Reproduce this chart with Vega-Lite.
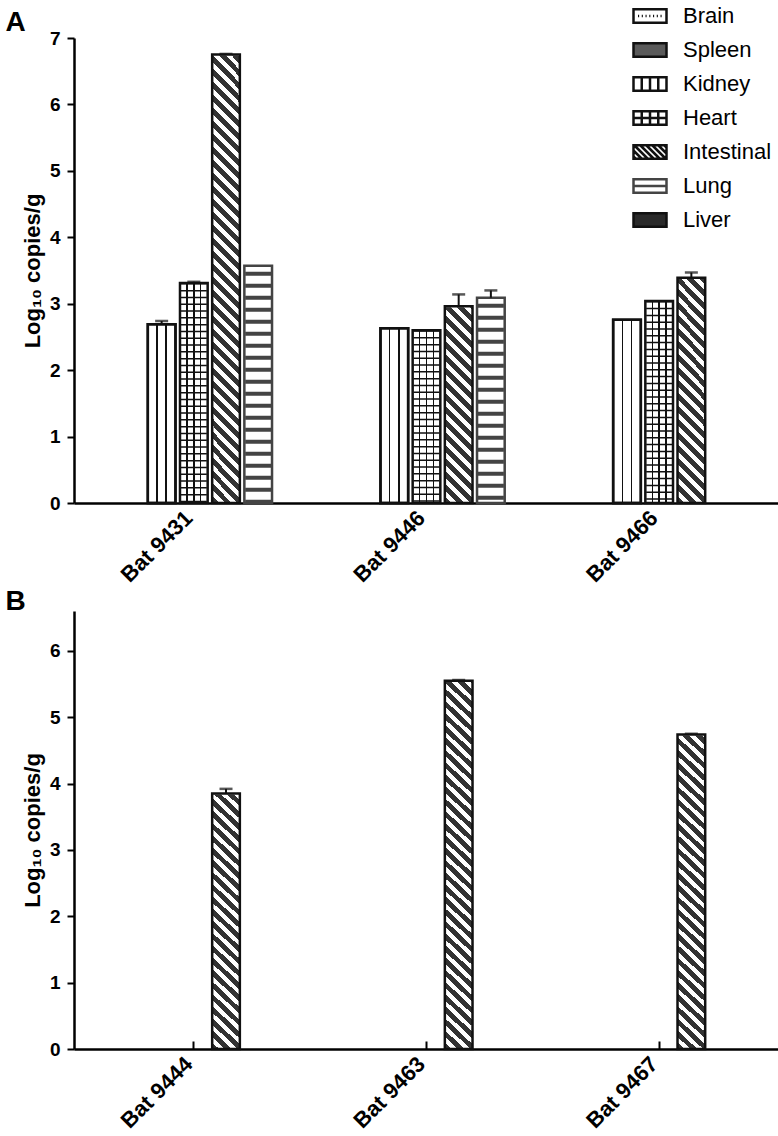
{
  "$schema": "https://vega.github.io/schema/vega-lite/v6.json",
  "background": "white",
  "padding": 5,
  "data": {"values": [
    {"panel": "A", "bat": "Bat 9431", "organ": "Kidney", "value": 2.69, "upper": 2.74},
    {"panel": "A", "bat": "Bat 9431", "organ": "Heart", "value": 3.31, "upper": 3.33},
    {"panel": "A", "bat": "Bat 9431", "organ": "Intestinal", "value": 6.75, "upper": 6.76},
    {"panel": "A", "bat": "Bat 9431", "organ": "Lung", "value": 3.57, "upper": 3.57},
    {"panel": "A", "bat": "Bat 9446", "organ": "Kidney", "value": 2.63, "upper": 2.63},
    {"panel": "A", "bat": "Bat 9446", "organ": "Heart", "value": 2.6, "upper": 2.6},
    {"panel": "A", "bat": "Bat 9446", "organ": "Intestinal", "value": 2.96, "upper": 3.14},
    {"panel": "A", "bat": "Bat 9446", "organ": "Lung", "value": 3.09, "upper": 3.2},
    {"panel": "A", "bat": "Bat 9466", "organ": "Kidney", "value": 2.76, "upper": 2.76},
    {"panel": "A", "bat": "Bat 9466", "organ": "Heart", "value": 3.04, "upper": 3.04},
    {"panel": "A", "bat": "Bat 9466", "organ": "Intestinal", "value": 3.39, "upper": 3.47},
    {"panel": "B", "bat": "Bat 9444", "organ": "Intestinal", "value": 3.85, "upper": 3.92},
    {"panel": "B", "bat": "Bat 9463", "organ": "Intestinal", "value": 5.55, "upper": 5.56},
    {"panel": "B", "bat": "Bat 9467", "organ": "Intestinal", "value": 4.74, "upper": 4.75}
  ]},
  "config": {
    "view": {"stroke": null},
    "font": "Liberation Sans",
    "axis": {"grid": false, "domainColor": "black", "domainWidth": 2.5, "tickColor": "black", "tickWidth": 2, "labelColor": "black", "labelFont": "Liberation Sans", "labelFontWeight": "bold", "titleFont": "Liberation Sans", "titleFontWeight": "bold", "titleColor": "black", "zindex": 1},
    "title": {"font": "Liberation Sans", "fontWeight": "bold", "fontSize": 28, "anchor": "start", "color": "black"}
  },
  "spacing": 2,
  "resolve": {"scale": {"x": "independent", "y": "independent", "shape": "independent", "fill": "independent", "stroke": "independent"}, "legend": {"shape": "independent", "fill": "independent", "stroke": "independent"}},
  "vconcat": [
    {
      "title": {"text": "A", "dx": -16, "dy": 32, "offset": 0},
      "width": 705,
      "height": 465,
      "transform": [{"filter": "datum.panel === 'A'"}],
      "encoding": {
        "x": {"field": "bat", "type": "nominal", "scale": {"paddingInner": 0, "paddingOuter": 0.015}, "axis": {"title": null, "labelAngle": -45, "labelFontSize": 22, "tickSize": -8, "labelPadding": 12, "labelOffset": -12}},
        "xOffset": {"field": "organ", "type": "nominal", "scale": {"domain": ["Brain", "Spleen", "Kidney", "Heart", "Intestinal", "Lung", "Liver"], "paddingInner": 0.14, "paddingOuter": 0.185}},
        "y": {"field": "value", "type": "quantitative", "scale": {"domain": [0, 7], "nice": false}, "axis": {"title": "Log₁₀ copies/g", "values": [0, 1, 2, 3, 4, 5, 6, 7], "tickSize": 7, "labelFontSize": 19, "labelPadding": 7, "titleFontSize": 22, "titlePadding": 5}}
      },
      "layer": [
        {"transform": [{"filter": "datum.organ === 'Kidney'"}], "mark": {"type": "bar", "stroke": "#111", "strokeWidth": 2.5, "fill": {"gradient": "linear", "x1": 0, "y1": 0, "x2": 1, "y2": 0, "stops": [{"offset":0,"color":"#fff"},{"offset":0.305,"color":"#fff"},{"offset":0.305,"color":"#111"},{"offset":0.361,"color":"#111"},{"offset":0.361,"color":"#fff"},{"offset":0.639,"color":"#fff"},{"offset":0.639,"color":"#111"},{"offset":0.695,"color":"#111"},{"offset":0.695,"color":"#fff"},{"offset":1,"color":"#fff"}]}}},
        {"transform": [{"filter": "datum.organ === 'Heart'"}], "mark": {"type": "bar", "strokeWidth": 0, "fill": {"gradient": "linear", "x1": 0, "y1": 0, "x2": 1, "y2": 0, "stops": [{"offset":0,"color":"#fff"},{"offset":0.223,"color":"#fff"},{"offset":0.223,"color":"#111"},{"offset":0.277,"color":"#111"},{"offset":0.277,"color":"#fff"},{"offset":0.473,"color":"#fff"},{"offset":0.473,"color":"#111"},{"offset":0.527,"color":"#111"},{"offset":0.527,"color":"#fff"},{"offset":0.723,"color":"#fff"},{"offset":0.723,"color":"#111"},{"offset":0.777,"color":"#111"},{"offset":0.777,"color":"#fff"},{"offset":1,"color":"#fff"}]}}},
        {"transform": [{"filter": "datum.organ === 'Heart'"}], "mark": {"type": "rule", "color": "#111", "strokeWidth": 26, "strokeDash": [1.5, 5.3], "strokeCap": "butt"}, "encoding": {"y2": {"datum": 0}}},
        {"transform": [{"filter": "datum.organ === 'Intestinal'"}], "mark": {"type": "bar", "strokeWidth": 0, "fill": {"gradient": "linear", "x1": 0, "y1": 1, "x2": 0.0636, "y2": -0.0564, "stops": [
      {"offset":0,"color":"#333"},{"offset":0.0142,"color":"#333"},{"offset":0.0142,"color":"#fff"},{"offset":0.0263,"color":"#fff"},
      {"offset":0.0263,"color":"#333"},{"offset":0.0405,"color":"#333"},{"offset":0.0405,"color":"#fff"},{"offset":0.0526,"color":"#fff"},
      {"offset":0.0526,"color":"#333"},{"offset":0.0668,"color":"#333"},{"offset":0.0668,"color":"#fff"},{"offset":0.0789,"color":"#fff"},
      {"offset":0.0789,"color":"#333"},{"offset":0.0932,"color":"#333"},{"offset":0.0932,"color":"#fff"},{"offset":0.1053,"color":"#fff"},
      {"offset":0.1053,"color":"#333"},{"offset":0.1195,"color":"#333"},{"offset":0.1195,"color":"#fff"},{"offset":0.1316,"color":"#fff"},
      {"offset":0.1316,"color":"#333"},{"offset":0.1458,"color":"#333"},{"offset":0.1458,"color":"#fff"},{"offset":0.1579,"color":"#fff"},
      {"offset":0.1579,"color":"#333"},{"offset":0.1721,"color":"#333"},{"offset":0.1721,"color":"#fff"},{"offset":0.1842,"color":"#fff"},
      {"offset":0.1842,"color":"#333"},{"offset":0.1984,"color":"#333"},{"offset":0.1984,"color":"#fff"},{"offset":0.2105,"color":"#fff"},
      {"offset":0.2105,"color":"#333"},{"offset":0.2247,"color":"#333"},{"offset":0.2247,"color":"#fff"},{"offset":0.2368,"color":"#fff"},
      {"offset":0.2368,"color":"#333"},{"offset":0.2511,"color":"#333"},{"offset":0.2511,"color":"#fff"},{"offset":0.2632,"color":"#fff"},
      {"offset":0.2632,"color":"#333"},{"offset":0.2774,"color":"#333"},{"offset":0.2774,"color":"#fff"},{"offset":0.2895,"color":"#fff"},
      {"offset":0.2895,"color":"#333"},{"offset":0.3037,"color":"#333"},{"offset":0.3037,"color":"#fff"},{"offset":0.3158,"color":"#fff"},
      {"offset":0.3158,"color":"#333"},{"offset":0.33,"color":"#333"},{"offset":0.33,"color":"#fff"},{"offset":0.3421,"color":"#fff"},
      {"offset":0.3421,"color":"#333"},{"offset":0.3563,"color":"#333"},{"offset":0.3563,"color":"#fff"},{"offset":0.3684,"color":"#fff"},
      {"offset":0.3684,"color":"#333"},{"offset":0.3826,"color":"#333"},{"offset":0.3826,"color":"#fff"},{"offset":0.3947,"color":"#fff"},
      {"offset":0.3947,"color":"#333"},{"offset":0.4089,"color":"#333"},{"offset":0.4089,"color":"#fff"},{"offset":0.4211,"color":"#fff"},
      {"offset":0.4211,"color":"#333"},{"offset":0.4353,"color":"#333"},{"offset":0.4353,"color":"#fff"},{"offset":0.4474,"color":"#fff"},
      {"offset":0.4474,"color":"#333"},{"offset":0.4616,"color":"#333"},{"offset":0.4616,"color":"#fff"},{"offset":0.4737,"color":"#fff"},
      {"offset":0.4737,"color":"#333"},{"offset":0.4879,"color":"#333"},{"offset":0.4879,"color":"#fff"},{"offset":0.5,"color":"#fff"},
      {"offset":0.5,"color":"#333"},{"offset":0.5142,"color":"#333"},{"offset":0.5142,"color":"#fff"},{"offset":0.5263,"color":"#fff"},
      {"offset":0.5263,"color":"#333"},{"offset":0.5405,"color":"#333"},{"offset":0.5405,"color":"#fff"},{"offset":0.5526,"color":"#fff"},
      {"offset":0.5526,"color":"#333"},{"offset":0.5668,"color":"#333"},{"offset":0.5668,"color":"#fff"},{"offset":0.5789,"color":"#fff"},
      {"offset":0.5789,"color":"#333"},{"offset":0.5932,"color":"#333"},{"offset":0.5932,"color":"#fff"},{"offset":0.6053,"color":"#fff"},
      {"offset":0.6053,"color":"#333"},{"offset":0.6195,"color":"#333"},{"offset":0.6195,"color":"#fff"},{"offset":0.6316,"color":"#fff"},
      {"offset":0.6316,"color":"#333"},{"offset":0.6458,"color":"#333"},{"offset":0.6458,"color":"#fff"},{"offset":0.6579,"color":"#fff"},
      {"offset":0.6579,"color":"#333"},{"offset":0.6721,"color":"#333"},{"offset":0.6721,"color":"#fff"},{"offset":0.6842,"color":"#fff"},
      {"offset":0.6842,"color":"#333"},{"offset":0.6984,"color":"#333"},{"offset":0.6984,"color":"#fff"},{"offset":0.7105,"color":"#fff"},
      {"offset":0.7105,"color":"#333"},{"offset":0.7247,"color":"#333"},{"offset":0.7247,"color":"#fff"},{"offset":0.7368,"color":"#fff"},
      {"offset":0.7368,"color":"#333"},{"offset":0.7511,"color":"#333"},{"offset":0.7511,"color":"#fff"},{"offset":0.7632,"color":"#fff"},
      {"offset":0.7632,"color":"#333"},{"offset":0.7774,"color":"#333"},{"offset":0.7774,"color":"#fff"},{"offset":0.7895,"color":"#fff"},
      {"offset":0.7895,"color":"#333"},{"offset":0.8037,"color":"#333"},{"offset":0.8037,"color":"#fff"},{"offset":0.8158,"color":"#fff"},
      {"offset":0.8158,"color":"#333"},{"offset":0.83,"color":"#333"},{"offset":0.83,"color":"#fff"},{"offset":0.8421,"color":"#fff"},
      {"offset":0.8421,"color":"#333"},{"offset":0.8563,"color":"#333"},{"offset":0.8563,"color":"#fff"},{"offset":0.8684,"color":"#fff"},
      {"offset":0.8684,"color":"#333"},{"offset":0.8826,"color":"#333"},{"offset":0.8826,"color":"#fff"},{"offset":0.8947,"color":"#fff"},
      {"offset":0.8947,"color":"#333"},{"offset":0.9089,"color":"#333"},{"offset":0.9089,"color":"#fff"},{"offset":0.9211,"color":"#fff"},
      {"offset":0.9211,"color":"#333"},{"offset":0.9353,"color":"#333"},{"offset":0.9353,"color":"#fff"},{"offset":0.9474,"color":"#fff"},
      {"offset":0.9474,"color":"#333"},{"offset":0.9616,"color":"#333"},{"offset":0.9616,"color":"#fff"},{"offset":0.9737,"color":"#fff"},
      {"offset":0.9737,"color":"#333"},{"offset":0.9879,"color":"#333"},{"offset":0.9879,"color":"#fff"},{"offset":1,"color":"#fff"}
        ]}}, "encoding": {"y": {"datum": 7, "type": "quantitative"}, "y2": {"datum": 0}}},
        {"transform": [{"filter": "datum.organ === 'Intestinal'"}], "mark": {"type": "bar", "fill": "white", "stroke": "white", "strokeWidth": 2}, "encoding": {"y2": {"datum": 7}}},
        {"transform": [{"filter": "datum.organ === 'Lung'"}], "mark": {"type": "bar", "fill": "white", "strokeWidth": 0}},
        {"transform": [{"filter": "datum.organ === 'Lung'"}], "mark": {"type": "rule", "color": "#444", "strokeWidth": 26, "strokeDash": [4, 8], "strokeDashOffset": 6, "strokeCap": "butt"}, "encoding": {"y2": {"datum": 0}}},
        {"mark": {"type": "bar", "fill": "transparent", "strokeWidth": 2.5}, "encoding": {"stroke": {"condition": {"test": "datum.organ === 'Lung'", "value": "#444"}, "value": "#111"}}},
        {"transform": [{"filter": "datum.upper > datum.value"}], "mark": {"type": "rule", "color": "#111", "strokeWidth": 2}, "encoding": {"y2": {"field": "upper"}}},
        {"transform": [{"filter": "datum.upper > datum.value"}], "mark": {"type": "tick", "color": "#111", "thickness": 2.5, "size": 13}, "encoding": {"y": {"field": "upper", "type": "quantitative"}}},
        {"mark": {"type": "point", "opacity": 0, "filled": true}, "encoding": {
          "shape": {"field": "organ", "type": "nominal",
            "scale": {"domain": ["Brain", "Spleen", "Kidney", "Heart", "Intestinal", "Lung", "Liver"], "range": [
              "M-2.2,-0.9H2.2V0.9H-2.2Z M-1.6,0H-1.45 M-1.1,0H-0.95 M-0.6,0H-0.45 M-0.1,0H0.05 M0.4,0H0.55 M0.9,0H1.05 M1.4,0H1.55",
              "M-2.2,-0.9H2.2V0.9H-2.2Z",
              "M-2.2,-0.9H2.2V0.9H-2.2Z M-1.1,-0.9V0.9 M0,-0.9V0.9 M1.1,-0.9V0.9",
              "M-2.2,-0.9H2.2V0.9H-2.2Z M-1.1,-0.9V0.9 M0,-0.9V0.9 M1.1,-0.9V0.9 M-2.2,0H2.2",
              "M-2.2,-0.9H2.2V0.9H-2.2Z M-2.2,0.6L-1.9,0.9 M-2.2,-0.2L-1.1,0.9 M-2.1,-0.9L-0.3,0.9 M-1.3,-0.9L0.5,0.9 M-0.5,-0.9L1.3,0.9 M0.3,-0.9L2.1,0.9 M1.1,-0.9L2.2,0.2 M1.9,-0.9L2.2,-0.6",
              "M-2.2,-0.9H2.2V0.9H-2.2Z M-2.2,0H2.2",
              "M-2.2,-0.9H2.2V0.9H-2.2Z"
            ]},
            "legend": {"title": null, "orient": "none", "legendX": 565, "legendY": -33, "padding": 0, "symbolSize": 225, "symbolStrokeWidth": 2.5, "symbolOpacity": 1, "labelFont": "Liberation Sans", "labelFontSize": 22, "labelColor": "black", "labelOffset": 22, "rowPadding": 10, "labelLimit": 300}},
          "fill": {"field": "organ", "type": "nominal",
            "scale": {"domain": ["Brain", "Spleen", "Kidney", "Heart", "Intestinal", "Lung", "Liver"], "range": ["#ffffff", "#5a5a5a", "#ffffff", "#ffffff", "#ffffff", "#ffffff", "#2a2a2a"]},
            "legend": {"title": null, "orient": "none", "legendX": 565, "legendY": -33, "padding": 0, "symbolSize": 225, "symbolStrokeWidth": 2.5, "symbolOpacity": 1, "labelFont": "Liberation Sans", "labelFontSize": 22, "labelColor": "black", "labelOffset": 22, "rowPadding": 10, "labelLimit": 300}},
          "stroke": {"field": "organ", "type": "nominal",
            "scale": {"domain": ["Brain", "Spleen", "Kidney", "Heart", "Intestinal", "Lung", "Liver"], "range": ["#111111", "#111111", "#111111", "#111111", "#111111", "#444444", "#111111"]},
            "legend": {"title": null, "orient": "none", "legendX": 565, "legendY": -33, "padding": 0, "symbolSize": 225, "symbolStrokeWidth": 2.5, "symbolOpacity": 1, "labelFont": "Liberation Sans", "labelFontSize": 22, "labelColor": "black", "labelOffset": 22, "rowPadding": 10, "labelLimit": 300}}
        }}
      ]
    },
    {
      "title": {"text": "B", "dx": -16, "dy": 6, "offset": 0},
      "width": 705,
      "height": 438,
      "transform": [{"filter": "datum.panel === 'B'"}],
      "encoding": {
        "x": {"field": "bat", "type": "nominal", "scale": {"paddingInner": 0, "paddingOuter": 0.015}, "axis": {"title": null, "labelAngle": -45, "labelFontSize": 22, "tickSize": -8, "labelPadding": 12, "labelOffset": -12}},
        "xOffset": {"field": "organ", "type": "nominal", "scale": {"domain": ["Brain", "Spleen", "Kidney", "Heart", "Intestinal", "Lung", "Liver"], "paddingInner": 0.14, "paddingOuter": 0.185}},
        "y": {"field": "value", "type": "quantitative", "scale": {"domain": [0, 6.6], "nice": false}, "axis": {"title": "Log₁₀ copies/g", "values": [0, 1, 2, 3, 4, 5, 6], "tickSize": 7, "labelFontSize": 19, "labelPadding": 7, "titleFontSize": 22, "titlePadding": 5}}
      },
      "layer": [
        {"mark": {"type": "bar", "strokeWidth": 0, "fill": {"gradient": "linear", "x1": 0, "y1": 1, "x2": 0.0636, "y2": -0.0564, "stops": [
      {"offset":0,"color":"#333"},{"offset":0.0142,"color":"#333"},{"offset":0.0142,"color":"#fff"},{"offset":0.0263,"color":"#fff"},
      {"offset":0.0263,"color":"#333"},{"offset":0.0405,"color":"#333"},{"offset":0.0405,"color":"#fff"},{"offset":0.0526,"color":"#fff"},
      {"offset":0.0526,"color":"#333"},{"offset":0.0668,"color":"#333"},{"offset":0.0668,"color":"#fff"},{"offset":0.0789,"color":"#fff"},
      {"offset":0.0789,"color":"#333"},{"offset":0.0932,"color":"#333"},{"offset":0.0932,"color":"#fff"},{"offset":0.1053,"color":"#fff"},
      {"offset":0.1053,"color":"#333"},{"offset":0.1195,"color":"#333"},{"offset":0.1195,"color":"#fff"},{"offset":0.1316,"color":"#fff"},
      {"offset":0.1316,"color":"#333"},{"offset":0.1458,"color":"#333"},{"offset":0.1458,"color":"#fff"},{"offset":0.1579,"color":"#fff"},
      {"offset":0.1579,"color":"#333"},{"offset":0.1721,"color":"#333"},{"offset":0.1721,"color":"#fff"},{"offset":0.1842,"color":"#fff"},
      {"offset":0.1842,"color":"#333"},{"offset":0.1984,"color":"#333"},{"offset":0.1984,"color":"#fff"},{"offset":0.2105,"color":"#fff"},
      {"offset":0.2105,"color":"#333"},{"offset":0.2247,"color":"#333"},{"offset":0.2247,"color":"#fff"},{"offset":0.2368,"color":"#fff"},
      {"offset":0.2368,"color":"#333"},{"offset":0.2511,"color":"#333"},{"offset":0.2511,"color":"#fff"},{"offset":0.2632,"color":"#fff"},
      {"offset":0.2632,"color":"#333"},{"offset":0.2774,"color":"#333"},{"offset":0.2774,"color":"#fff"},{"offset":0.2895,"color":"#fff"},
      {"offset":0.2895,"color":"#333"},{"offset":0.3037,"color":"#333"},{"offset":0.3037,"color":"#fff"},{"offset":0.3158,"color":"#fff"},
      {"offset":0.3158,"color":"#333"},{"offset":0.33,"color":"#333"},{"offset":0.33,"color":"#fff"},{"offset":0.3421,"color":"#fff"},
      {"offset":0.3421,"color":"#333"},{"offset":0.3563,"color":"#333"},{"offset":0.3563,"color":"#fff"},{"offset":0.3684,"color":"#fff"},
      {"offset":0.3684,"color":"#333"},{"offset":0.3826,"color":"#333"},{"offset":0.3826,"color":"#fff"},{"offset":0.3947,"color":"#fff"},
      {"offset":0.3947,"color":"#333"},{"offset":0.4089,"color":"#333"},{"offset":0.4089,"color":"#fff"},{"offset":0.4211,"color":"#fff"},
      {"offset":0.4211,"color":"#333"},{"offset":0.4353,"color":"#333"},{"offset":0.4353,"color":"#fff"},{"offset":0.4474,"color":"#fff"},
      {"offset":0.4474,"color":"#333"},{"offset":0.4616,"color":"#333"},{"offset":0.4616,"color":"#fff"},{"offset":0.4737,"color":"#fff"},
      {"offset":0.4737,"color":"#333"},{"offset":0.4879,"color":"#333"},{"offset":0.4879,"color":"#fff"},{"offset":0.5,"color":"#fff"},
      {"offset":0.5,"color":"#333"},{"offset":0.5142,"color":"#333"},{"offset":0.5142,"color":"#fff"},{"offset":0.5263,"color":"#fff"},
      {"offset":0.5263,"color":"#333"},{"offset":0.5405,"color":"#333"},{"offset":0.5405,"color":"#fff"},{"offset":0.5526,"color":"#fff"},
      {"offset":0.5526,"color":"#333"},{"offset":0.5668,"color":"#333"},{"offset":0.5668,"color":"#fff"},{"offset":0.5789,"color":"#fff"},
      {"offset":0.5789,"color":"#333"},{"offset":0.5932,"color":"#333"},{"offset":0.5932,"color":"#fff"},{"offset":0.6053,"color":"#fff"},
      {"offset":0.6053,"color":"#333"},{"offset":0.6195,"color":"#333"},{"offset":0.6195,"color":"#fff"},{"offset":0.6316,"color":"#fff"},
      {"offset":0.6316,"color":"#333"},{"offset":0.6458,"color":"#333"},{"offset":0.6458,"color":"#fff"},{"offset":0.6579,"color":"#fff"},
      {"offset":0.6579,"color":"#333"},{"offset":0.6721,"color":"#333"},{"offset":0.6721,"color":"#fff"},{"offset":0.6842,"color":"#fff"},
      {"offset":0.6842,"color":"#333"},{"offset":0.6984,"color":"#333"},{"offset":0.6984,"color":"#fff"},{"offset":0.7105,"color":"#fff"},
      {"offset":0.7105,"color":"#333"},{"offset":0.7247,"color":"#333"},{"offset":0.7247,"color":"#fff"},{"offset":0.7368,"color":"#fff"},
      {"offset":0.7368,"color":"#333"},{"offset":0.7511,"color":"#333"},{"offset":0.7511,"color":"#fff"},{"offset":0.7632,"color":"#fff"},
      {"offset":0.7632,"color":"#333"},{"offset":0.7774,"color":"#333"},{"offset":0.7774,"color":"#fff"},{"offset":0.7895,"color":"#fff"},
      {"offset":0.7895,"color":"#333"},{"offset":0.8037,"color":"#333"},{"offset":0.8037,"color":"#fff"},{"offset":0.8158,"color":"#fff"},
      {"offset":0.8158,"color":"#333"},{"offset":0.83,"color":"#333"},{"offset":0.83,"color":"#fff"},{"offset":0.8421,"color":"#fff"},
      {"offset":0.8421,"color":"#333"},{"offset":0.8563,"color":"#333"},{"offset":0.8563,"color":"#fff"},{"offset":0.8684,"color":"#fff"},
      {"offset":0.8684,"color":"#333"},{"offset":0.8826,"color":"#333"},{"offset":0.8826,"color":"#fff"},{"offset":0.8947,"color":"#fff"},
      {"offset":0.8947,"color":"#333"},{"offset":0.9089,"color":"#333"},{"offset":0.9089,"color":"#fff"},{"offset":0.9211,"color":"#fff"},
      {"offset":0.9211,"color":"#333"},{"offset":0.9353,"color":"#333"},{"offset":0.9353,"color":"#fff"},{"offset":0.9474,"color":"#fff"},
      {"offset":0.9474,"color":"#333"},{"offset":0.9616,"color":"#333"},{"offset":0.9616,"color":"#fff"},{"offset":0.9737,"color":"#fff"},
      {"offset":0.9737,"color":"#333"},{"offset":0.9879,"color":"#333"},{"offset":0.9879,"color":"#fff"},{"offset":1,"color":"#fff"}
        ]}}, "encoding": {"y": {"datum": 6.6, "type": "quantitative"}, "y2": {"datum": 0}}},
        {"mark": {"type": "bar", "fill": "white", "stroke": "white", "strokeWidth": 2}, "encoding": {"y2": {"datum": 6.6}}},
        {"mark": {"type": "bar", "fill": "transparent", "stroke": "#111", "strokeWidth": 2.5}},
        {"transform": [{"filter": "datum.upper > datum.value"}], "mark": {"type": "rule", "color": "#111", "strokeWidth": 2}, "encoding": {"y2": {"field": "upper"}}},
        {"transform": [{"filter": "datum.upper > datum.value"}], "mark": {"type": "tick", "color": "#111", "thickness": 2.5, "size": 13}, "encoding": {"y": {"field": "upper", "type": "quantitative"}}}
      ]
    }
  ]
}
